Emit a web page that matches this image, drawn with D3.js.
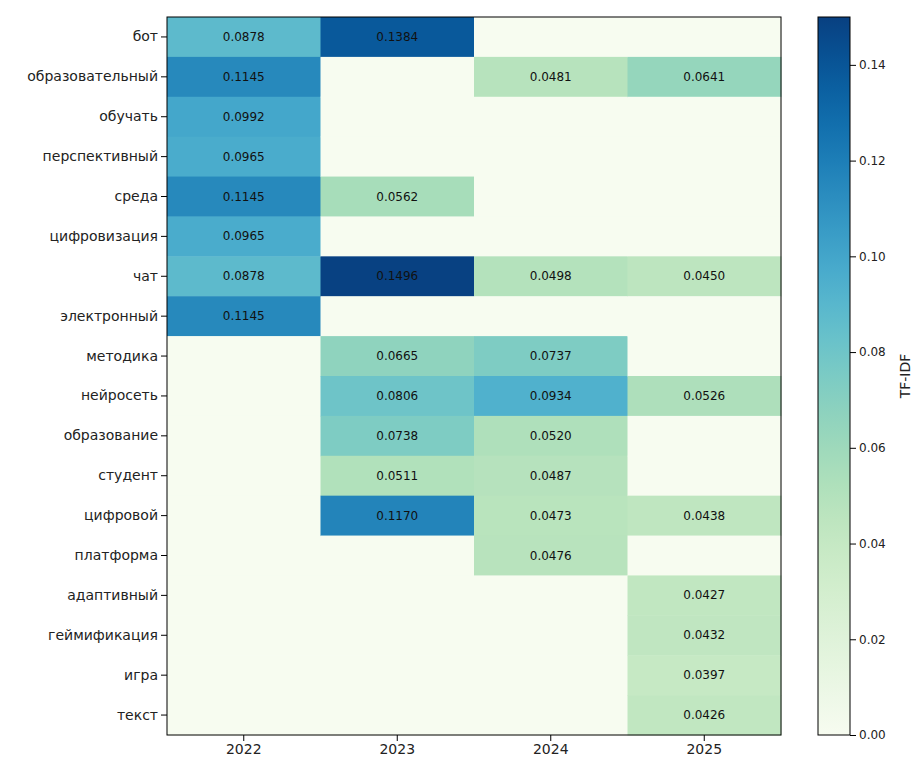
<!DOCTYPE html>
<html><head><meta charset="utf-8">
<script src="https://cdn.jsdelivr.net/npm/d3@7"></script>
<style>body{margin:0;background:#fff;font-family:"DejaVu Sans",sans-serif}</style>
</head><body><svg id="c" width="923" height="774"></svg>
<script>
const years = ["2022", "2023", "2024", "2025"];
const terms = ["бот","образовательный","обучать","перспективный","среда","цифровизация","чат","электронный","методика","нейросеть","образование","студент","цифровой","платформа","адаптивный","геймификация","игра","текст"];
const v2022 = [0.0878,0.1145,0.0992,0.0965,0.1145,0.0965,0.0878,0.1145,0,0,0,0,0,0,0,0,0,0];
const v2023 = [0.1384,0,0,0,0.0562,0,0.1496,0,0.0665,0.0806,0.0738,0.0511,0.1170,0,0,0,0,0];
const v2024 = [0,0.0481,0,0,0,0,0.0498,0,0.0737,0.0934,0.0520,0.0487,0.0473,0.0476,0,0,0,0];
const v2025 = [0,0.0641,0,0,0,0,0.0450,0,0,0.0526,0,0,0.0438,0,0.0427,0.0432,0.0397,0.0426];
const cbTicks = [0,0.02,0.04,0.06,0.08,0.10,0.12,0.14];

const cells = [];
[v2022, v2023, v2024, v2025].forEach((arr, j) =>
  arr.forEach((v, i) => cells.push({ term: terms[i], year: years[j], v })));

const svg = d3.select("#c");
const m = { left: 167, top: 17, right: 781, bottom: 735 };

const x = d3.scaleBand().domain(years).range([m.left, m.right]);
const y = d3.scaleBand().domain(terms).range([m.top, m.bottom]);
const color = d3.scaleSequential(d3.interpolateGnBu).domain([0, 0.15]);

svg.append("g").selectAll("rect").data(cells).join("rect")
  .attr("x", d => x(d.year)).attr("y", d => y(d.term))
  .attr("width", x.bandwidth() + 0.5).attr("height", y.bandwidth() + 0.5)
  .attr("fill", d => color(d.v));

svg.append("g").selectAll("text").data(cells.filter(d => d.v > 0)).join("text")
  .attr("x", d => x(d.year) + x.bandwidth() / 2)
  .attr("y", d => y(d.term) + y.bandwidth() / 2)
  .attr("text-anchor", "middle").attr("dominant-baseline", "central")
  .attr("font-size", 12).attr("fill", "#111")
  .text(d => d.v.toFixed(4));

svg.append("rect").attr("x", m.left).attr("y", m.top)
  .attr("width", m.right - m.left).attr("height", m.bottom - m.top)
  .attr("fill", "none").attr("stroke", "#000");

const xa = svg.append("g").attr("transform", `translate(0,${m.bottom})`)
  .call(d3.axisBottom(x).tickSizeOuter(0));
xa.select(".domain").remove();
xa.selectAll("text").attr("font-size", 14).attr("fill", "#222").attr("font-family", "DejaVu Sans");

const ya = svg.append("g").attr("transform", `translate(${m.left},0)`)
  .call(d3.axisLeft(y).tickSizeOuter(0));
ya.select(".domain").remove();
ya.selectAll("text").attr("font-size", 14).attr("fill", "#222").attr("font-family", "DejaVu Sans");

// colorbar
const cb = { x: 818, w: 32 };
const cy = d3.scaleLinear().domain([0, 0.15]).range([m.bottom, m.top]);
const defs = svg.append("defs");
const grad = defs.append("linearGradient").attr("id", "g")
  .attr("x1", 0).attr("y1", 1).attr("x2", 0).attr("y2", 0);
d3.range(0, 1.001, 0.05).forEach(t =>
  grad.append("stop").attr("offset", t).attr("stop-color", color(t * 0.15)));
svg.append("rect").attr("x", cb.x).attr("y", m.top)
  .attr("width", cb.w).attr("height", m.bottom - m.top)
  .attr("fill", "url(#g)").attr("stroke", "#000");
const ca = svg.append("g").attr("transform", `translate(${cb.x + cb.w},0)`)
  .call(d3.axisRight(cy).tickValues(cbTicks).tickFormat(d3.format(".2f")));
ca.select(".domain").remove();
ca.selectAll("text").attr("font-size", 12).attr("fill", "#222").attr("font-family", "DejaVu Sans");
svg.append("text").attr("transform", `translate(910,${(m.top + m.bottom) / 2}) rotate(-90)`)
  .attr("text-anchor", "middle").attr("font-size", 14).attr("fill", "#222").text("TF-IDF");
</script></body></html>
